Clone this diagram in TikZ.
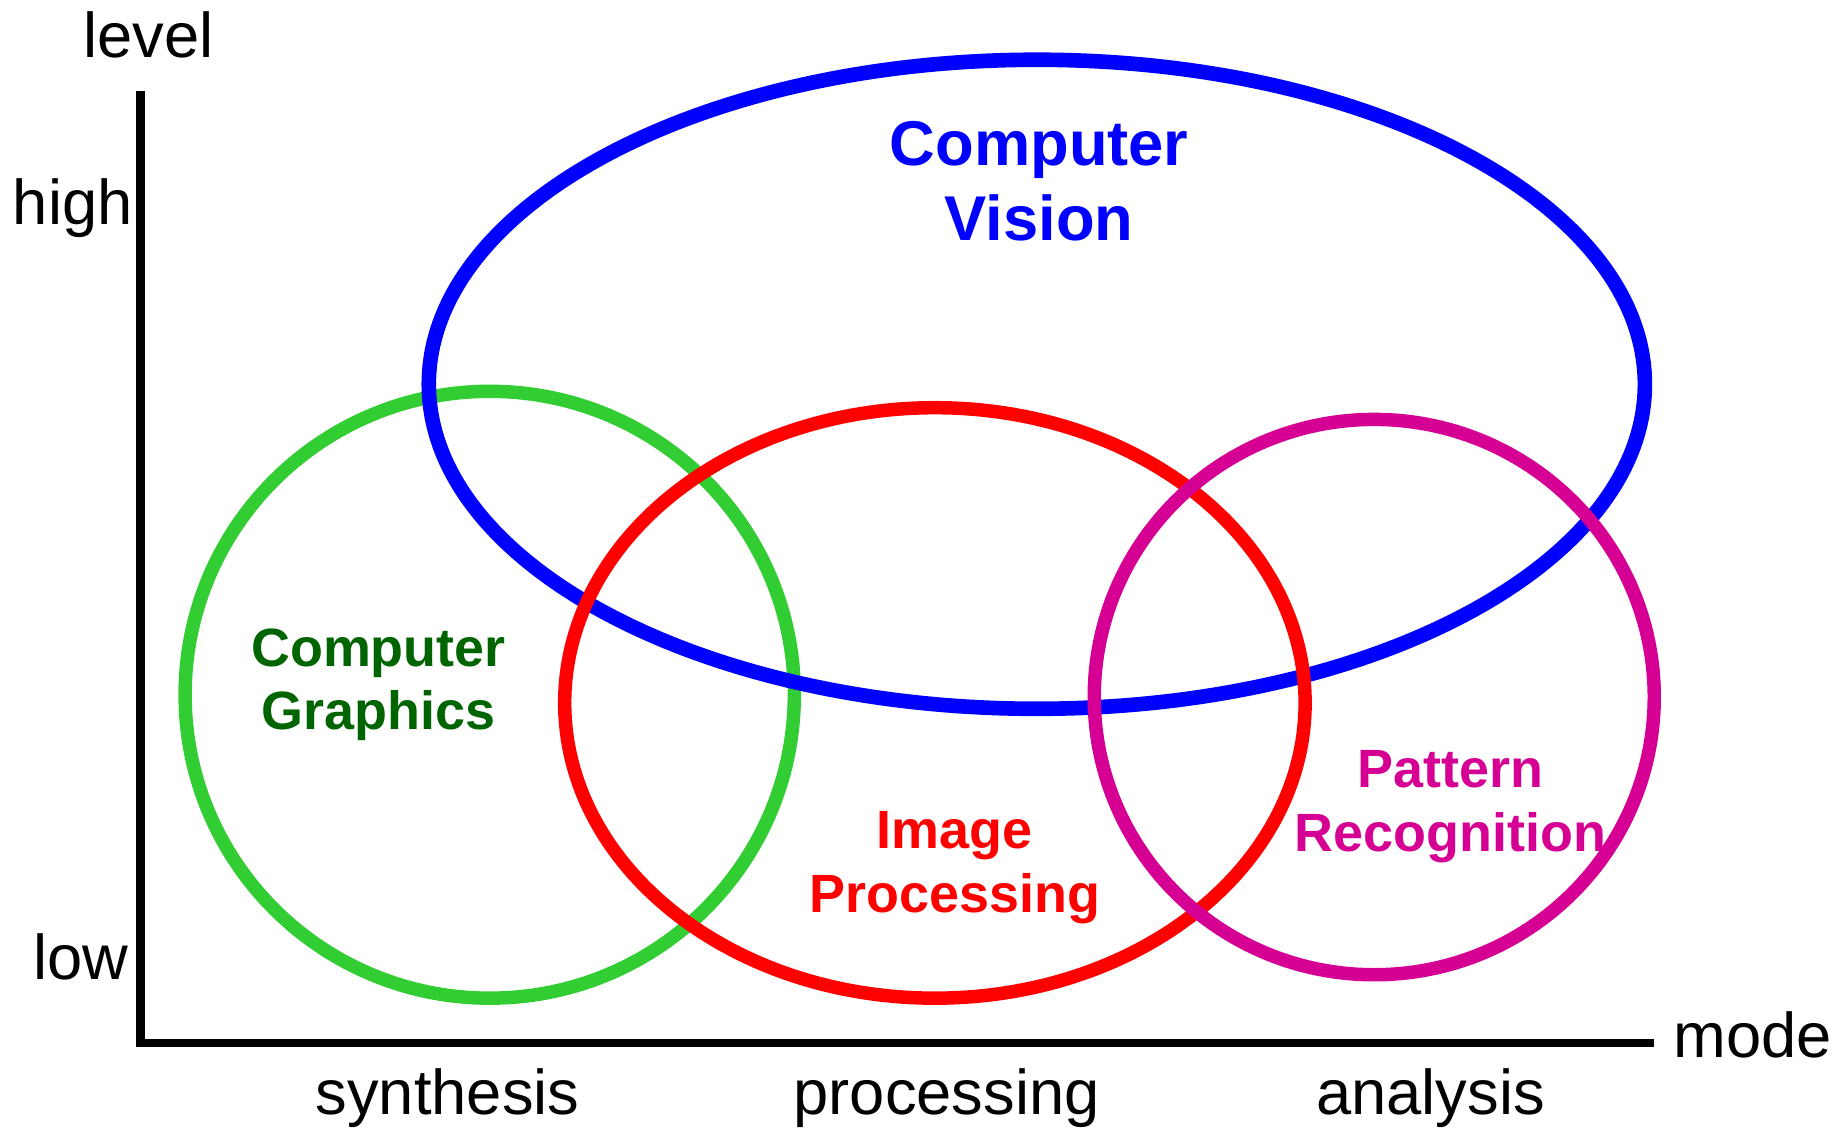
\documentclass[tikz,border=0pt]{standalone}
\usepackage{fontspec}
\setmainfont{Liberation Sans}
\definecolor{cvblue}{RGB}{0,0,255}
\definecolor{cggreen}{RGB}{50,205,50}
\definecolor{cgtext}{RGB}{0,100,0}
\definecolor{ipred}{RGB}{255,0,0}
\definecolor{prmag}{RGB}{213,0,147}
\tikzset{
  axislabel/.style={anchor=base, inner sep=0pt, font=\fontsize{54}{54}\selectfont},
  biglabel/.style={anchor=base, inner sep=0pt, font=\bfseries\fontsize{54}{54}\selectfont},
  smalllabel/.style={anchor=base, inner sep=0pt, font=\bfseries\fontsize{46}{46}\selectfont},
  ring/.style={line width=11.5pt},
  axisline/.style={line width=7pt, line join=miter}
}
\begin{document}
\begin{tikzpicture}[x=1pt,y=-1pt]
\useasboundingbox (0,0) rectangle (1568,965);
% axes
\coordinate (ytop) at (120,78);
\coordinate (origin) at (120,890);
\coordinate (xend) at (1412,890);
\draw[axisline] (ytop) -- (origin) -- (xend);
% rings (order: green, blue, red, magenta)
\draw[ring, cggreen] (418,593) ellipse [x radius=260pt, y radius=259pt];
\draw[ring, cvblue, line width=12.5pt] (885,328) ellipse [x radius=519pt, y radius=277pt];
\draw[ring, ipred] (798,600) ellipse [x radius=316pt, y radius=252pt];
\draw[ring, prmag] (1173,595) ellipse [x radius=239pt, y radius=237pt];
% axis labels
\node[axislabel] (level) at (127,49) {level};
\node[axislabel] (high) at (62,192) {high};
\node[axislabel] (low) at (69,836) {low};
\node[axislabel] (mode) at (1496,903) {mode};
\node[axislabel] (synth) at (382,951) {synthesis};
\node[axislabel] (proc) at (808,951) {processing};
\node[axislabel] (anal) at (1221,951) {analysis};
% region labels
\node[biglabel, cvblue] (cv1) at (887,141) {Computer};
\node[biglabel, cvblue] (cv2) at (887,205) {Vision};
\node[smalllabel, cgtext] (cg1) at (323,569) {Computer};
\node[smalllabel, cgtext] (cg2) at (323,623) {Graphics};
\node[smalllabel, ipred] (ip1) at (815,724) {Image};
\node[smalllabel, ipred] (ip2) at (815,779) {Processing};
\node[smalllabel, prmag] (pr1) at (1238,672) {Pattern};
\node[smalllabel, prmag] (pr2) at (1238,727) {Recognition};
\end{tikzpicture}
\end{document}
